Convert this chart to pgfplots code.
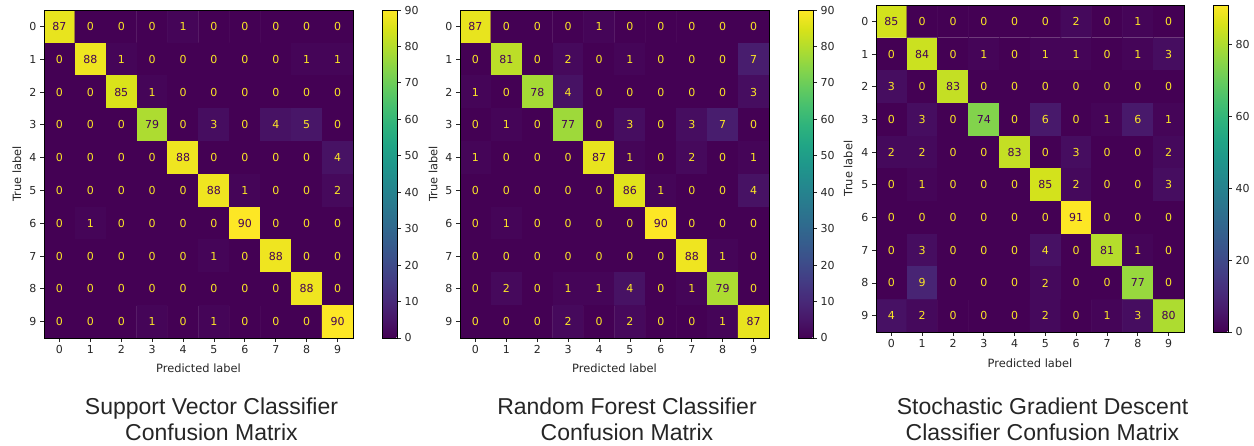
\documentclass[border=0pt]{standalone}
\usepackage{pgfplots}
\usepackage{pgfplotstable}
\pgfplotsset{compat=1.18}
\usepackage{fontspec}
\setmainfont{DejaVu Sans}
\newfontfamily\titlefont{Liberation Sans}
\definecolor{vdark}{HTML}{440154}
\definecolor{vlight}{HTML}{FDE725}
\definecolor{tcol}{HTML}{262626}

\pgfplotstableread[row sep=\\]{
x y C\\
0 0 87\\ 1 0 0\\ 2 0 0\\ 3 0 0\\ 4 0 1\\ 5 0 0\\ 6 0 0\\ 7 0 0\\ 8 0 0\\ 9 0 0\\
0 1 0\\ 1 1 88\\ 2 1 1\\ 3 1 0\\ 4 1 0\\ 5 1 0\\ 6 1 0\\ 7 1 0\\ 8 1 1\\ 9 1 1\\
0 2 0\\ 1 2 0\\ 2 2 85\\ 3 2 1\\ 4 2 0\\ 5 2 0\\ 6 2 0\\ 7 2 0\\ 8 2 0\\ 9 2 0\\
0 3 0\\ 1 3 0\\ 2 3 0\\ 3 3 79\\ 4 3 0\\ 5 3 3\\ 6 3 0\\ 7 3 4\\ 8 3 5\\ 9 3 0\\
0 4 0\\ 1 4 0\\ 2 4 0\\ 3 4 0\\ 4 4 88\\ 5 4 0\\ 6 4 0\\ 7 4 0\\ 8 4 0\\ 9 4 4\\
0 5 0\\ 1 5 0\\ 2 5 0\\ 3 5 0\\ 4 5 0\\ 5 5 88\\ 6 5 1\\ 7 5 0\\ 8 5 0\\ 9 5 2\\
0 6 0\\ 1 6 1\\ 2 6 0\\ 3 6 0\\ 4 6 0\\ 5 6 0\\ 6 6 90\\ 7 6 0\\ 8 6 0\\ 9 6 0\\
0 7 0\\ 1 7 0\\ 2 7 0\\ 3 7 0\\ 4 7 0\\ 5 7 1\\ 6 7 0\\ 7 7 88\\ 8 7 0\\ 9 7 0\\
0 8 0\\ 1 8 0\\ 2 8 0\\ 3 8 0\\ 4 8 0\\ 5 8 0\\ 6 8 0\\ 7 8 0\\ 8 8 88\\ 9 8 0\\
0 9 0\\ 1 9 0\\ 2 9 0\\ 3 9 1\\ 4 9 0\\ 5 9 1\\ 6 9 0\\ 7 9 0\\ 8 9 0\\ 9 9 90\\
}\svc

\pgfplotstableread[row sep=\\]{
x y C\\
0 0 87\\ 1 0 0\\ 2 0 0\\ 3 0 0\\ 4 0 1\\ 5 0 0\\ 6 0 0\\ 7 0 0\\ 8 0 0\\ 9 0 0\\
0 1 0\\ 1 1 81\\ 2 1 0\\ 3 1 2\\ 4 1 0\\ 5 1 1\\ 6 1 0\\ 7 1 0\\ 8 1 0\\ 9 1 7\\
0 2 1\\ 1 2 0\\ 2 2 78\\ 3 2 4\\ 4 2 0\\ 5 2 0\\ 6 2 0\\ 7 2 0\\ 8 2 0\\ 9 2 3\\
0 3 0\\ 1 3 1\\ 2 3 0\\ 3 3 77\\ 4 3 0\\ 5 3 3\\ 6 3 0\\ 7 3 3\\ 8 3 7\\ 9 3 0\\
0 4 1\\ 1 4 0\\ 2 4 0\\ 3 4 0\\ 4 4 87\\ 5 4 1\\ 6 4 0\\ 7 4 2\\ 8 4 0\\ 9 4 1\\
0 5 0\\ 1 5 0\\ 2 5 0\\ 3 5 0\\ 4 5 0\\ 5 5 86\\ 6 5 1\\ 7 5 0\\ 8 5 0\\ 9 5 4\\
0 6 0\\ 1 6 1\\ 2 6 0\\ 3 6 0\\ 4 6 0\\ 5 6 0\\ 6 6 90\\ 7 6 0\\ 8 6 0\\ 9 6 0\\
0 7 0\\ 1 7 0\\ 2 7 0\\ 3 7 0\\ 4 7 0\\ 5 7 0\\ 6 7 0\\ 7 7 88\\ 8 7 1\\ 9 7 0\\
0 8 0\\ 1 8 2\\ 2 8 0\\ 3 8 1\\ 4 8 1\\ 5 8 4\\ 6 8 0\\ 7 8 1\\ 8 8 79\\ 9 8 0\\
0 9 0\\ 1 9 0\\ 2 9 0\\ 3 9 2\\ 4 9 0\\ 5 9 2\\ 6 9 0\\ 7 9 0\\ 8 9 1\\ 9 9 87\\
}\rfc

\pgfplotstableread[row sep=\\]{
x y C\\
0 0 85\\ 1 0 0\\ 2 0 0\\ 3 0 0\\ 4 0 0\\ 5 0 0\\ 6 0 2\\ 7 0 0\\ 8 0 1\\ 9 0 0\\
0 1 0\\ 1 1 84\\ 2 1 0\\ 3 1 1\\ 4 1 0\\ 5 1 1\\ 6 1 1\\ 7 1 0\\ 8 1 1\\ 9 1 3\\
0 2 3\\ 1 2 0\\ 2 2 83\\ 3 2 0\\ 4 2 0\\ 5 2 0\\ 6 2 0\\ 7 2 0\\ 8 2 0\\ 9 2 0\\
0 3 0\\ 1 3 3\\ 2 3 0\\ 3 3 74\\ 4 3 0\\ 5 3 6\\ 6 3 0\\ 7 3 1\\ 8 3 6\\ 9 3 1\\
0 4 2\\ 1 4 2\\ 2 4 0\\ 3 4 0\\ 4 4 83\\ 5 4 0\\ 6 4 3\\ 7 4 0\\ 8 4 0\\ 9 4 2\\
0 5 0\\ 1 5 1\\ 2 5 0\\ 3 5 0\\ 4 5 0\\ 5 5 85\\ 6 5 2\\ 7 5 0\\ 8 5 0\\ 9 5 3\\
0 6 0\\ 1 6 0\\ 2 6 0\\ 3 6 0\\ 4 6 0\\ 5 6 0\\ 6 6 91\\ 7 6 0\\ 8 6 0\\ 9 6 0\\
0 7 0\\ 1 7 3\\ 2 7 0\\ 3 7 0\\ 4 7 0\\ 5 7 4\\ 6 7 0\\ 7 7 81\\ 8 7 1\\ 9 7 0\\
0 8 0\\ 1 8 9\\ 2 8 0\\ 3 8 0\\ 4 8 0\\ 5 8 2\\ 6 8 0\\ 7 8 0\\ 8 8 77\\ 9 8 0\\
0 9 4\\ 1 9 2\\ 2 9 0\\ 3 9 0\\ 4 9 0\\ 5 9 2\\ 6 9 0\\ 7 9 1\\ 8 9 3\\ 9 9 80\\
}\sgd

\pgfplotsset{
  cmaxis/.style={
    scale only axis, width=309pt, height=328pt,
    anchor=north west,
    xmin=-0.5, xmax=9.5, ymin=-0.5, ymax=9.5,
    y dir=reverse, enlargelimits=false, axis on top,
    xtick={0,...,9}, ytick={0,...,9},
    tick align=outside, tick pos=left,
    major tick length=4pt,
    tick style={color=tcol, line width=0.8pt},
    axis line style={color=black, line width=0.8pt},
    ticklabel style={font=\fontsize{11}{13}\selectfont, text=tcol},
    xlabel={Predicted label}, ylabel={True label},
    label style={font=\fontsize{11.4}{13}\selectfont, text=tcol},
    colormap/viridis,
    colorbar,
    /pgf/number format/assume math mode=true,
  },
  cbar/.style={
    colorbar style={
      at={(parent axis.north east)}, anchor=north west, xshift=20.5pt,
      width=15pt, scale only axis,
      font=\fontsize{11}{13}\selectfont,
      ytick={#1}, ytick pos=right, yticklabel pos=right,
      tick align=outside, major tick length=4pt,
      tick style={color=tcol, line width=0.8pt},
      axis line style={color=black, line width=0.8pt},
      every tick label/.append style={font=\fontsize{11}{13}\selectfont, text=tcol},
      yticklabel style={font=\fontsize{11}{13}\selectfont, text=tcol},
      /pgf/number format/assume math mode=true,
    },
  },
  cmtext/.style={
    only marks, mark=*, mark size=0pt, mark options={draw=none, fill=none},
    point meta=explicit symbolic,
    nodes near coords={\ifnum\pgfplotspointmeta>45\relax\color{vdark}\else\color{vlight}\fi\pgfplotspointmeta},
    nodes near coords style={anchor=center, inner sep=0pt, font=\fontsize{11}{13}\selectfont},
  },
}

\begin{document}
\begin{tikzpicture}
\useasboundingbox (0,0) rectangle (1254pt,-446pt);

\begin{axis}[cmaxis, at={(44pt,-10pt)}, point meta min=0, point meta max=90, cbar={0,10,...,90},
  xlabel style={at={(axis description cs:0.5,0)}, anchor=center, yshift=-30pt},
  ylabel style={at={(axis description cs:0,0.5)}, anchor=center, yshift=27pt}]
\addplot[matrix plot*, mesh/cols=10, point meta=explicit] table[x=x, y=y, meta=C] {\svc};
\addplot[cmtext] table[x=x, y=y, meta=C] {\svc};
\end{axis}

\begin{axis}[cmaxis, at={(460pt,-10pt)}, point meta min=0, point meta max=90, cbar={0,10,...,90},
  xlabel style={at={(axis description cs:0.5,0)}, anchor=center, yshift=-30pt},
  ylabel style={at={(axis description cs:0,0.5)}, anchor=center, yshift=27pt}]
\addplot[matrix plot*, mesh/cols=10, point meta=explicit] table[x=x, y=y, meta=C] {\rfc};
\addplot[cmtext] table[x=x, y=y, meta=C] {\rfc};
\end{axis}

\begin{axis}[cmaxis, at={(876pt,-5pt)}, width=308pt, height=327pt, point meta min=0, point meta max=91, cbar={0,20,...,80},
  xlabel style={at={(axis description cs:0.5,0)}, anchor=center, yshift=-31pt},
  ylabel style={at={(axis description cs:0,0.5)}, anchor=center, yshift=28pt}]
\addplot[matrix plot*, mesh/cols=10, point meta=explicit] table[x=x, y=y, meta=C] {\sgd};
\addplot[cmtext] table[x=x, y=y, meta=C] {\sgd};
\end{axis}

\begin{scope}[every node/.style={text=tcol, inner sep=0pt, anchor=base, font=\titlefont\fontsize{23}{27}\selectfont}]
\node at (211.5pt,-414pt) {Support Vector Classifier};
\node at (211.5pt,-440pt) {Confusion Matrix};
\node at (627pt,-414pt) {Random Forest Classifier};
\node at (627pt,-440pt) {Confusion Matrix};
\node at (1042.5pt,-414pt) {Stochastic Gradient Descent};
\node at (1042.5pt,-440pt) {Classifier Confusion Matrix};
\end{scope}
\end{tikzpicture}
\end{document}
